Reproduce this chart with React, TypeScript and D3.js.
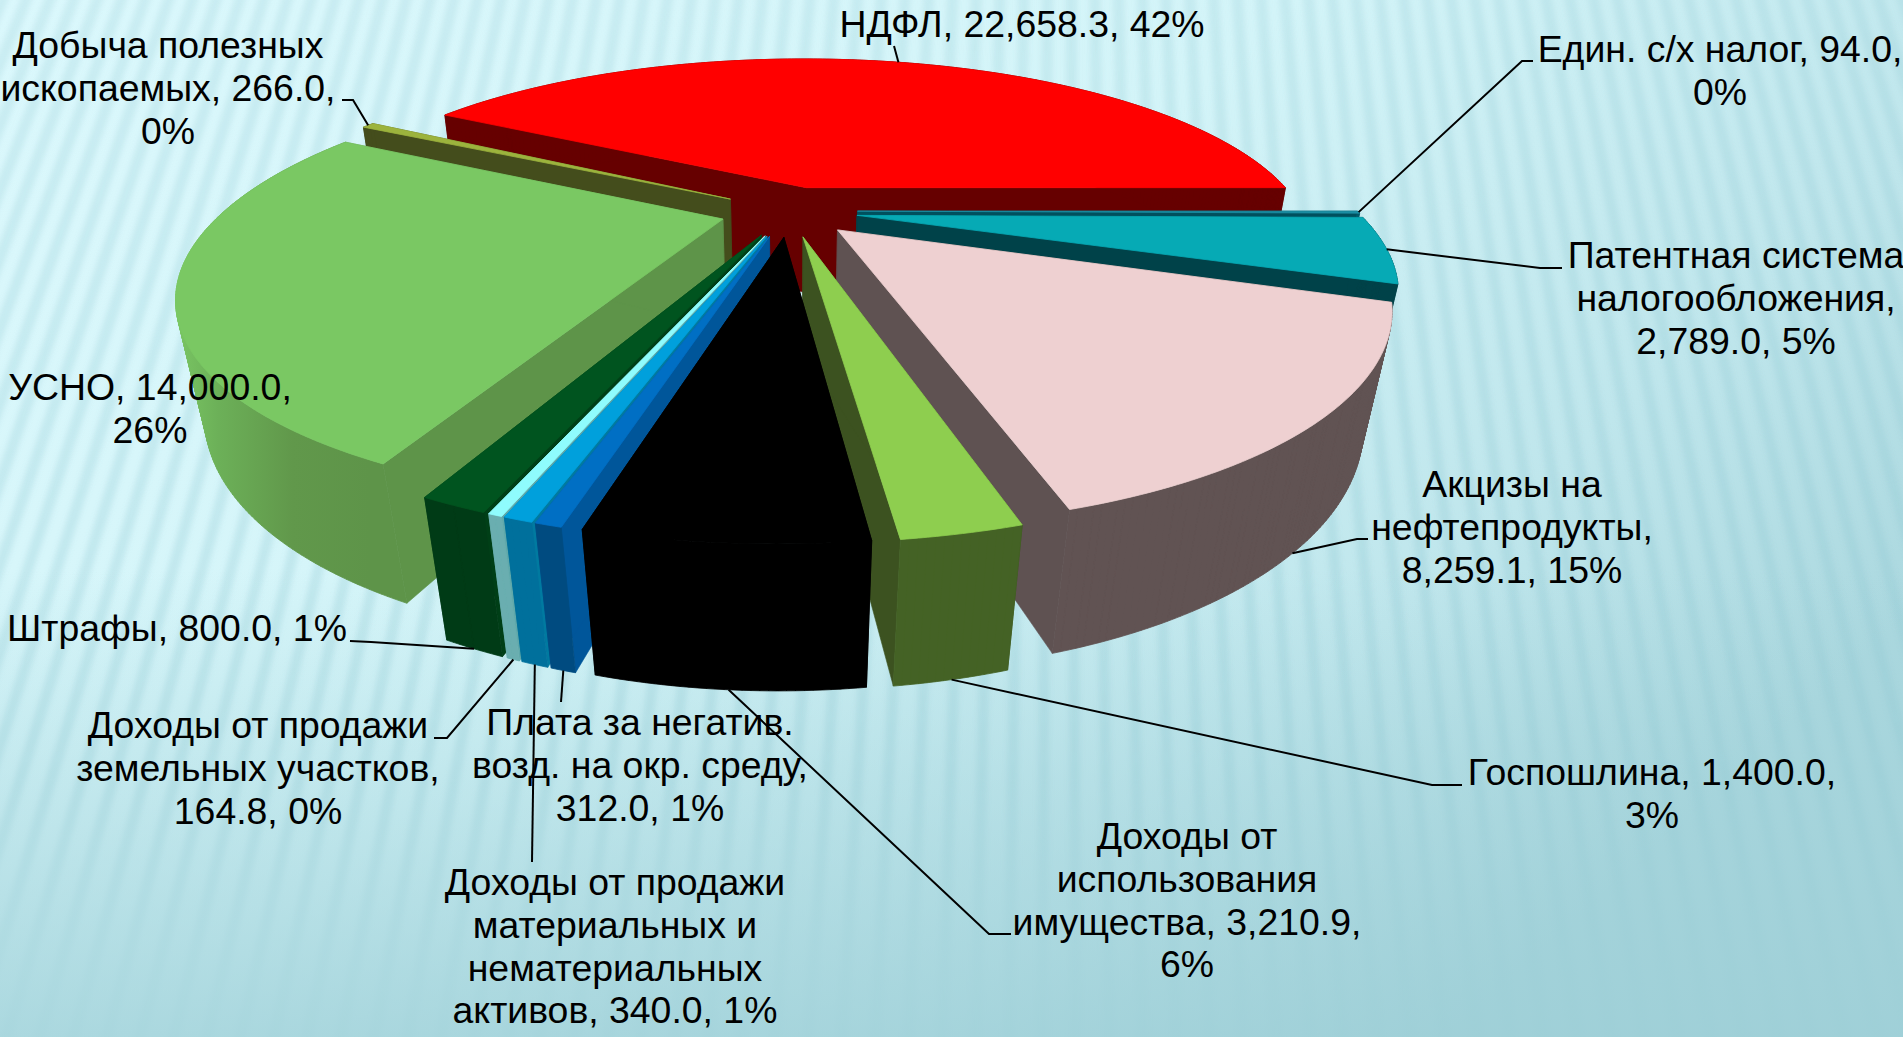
import React from "react";
import * as d3 from "d3";

const W = 1903, H = 1037;

const categories = ["НДФЛ","Един. с/х налог","Патентная система налогообложения","Акцизы на нефтепродукты","Госпошлина","Доходы от использования имущества","Плата за негатив. возд. на окр. среду","Доходы от продажи материальных и нематериальных активов","Доходы от продажи земельных участков","Штрафы","УСНО","Добыча полезных ископаемых"];
const values = [22658.3, 94.0, 2789.0, 8259.1, 1400.0, 3210.9, 312.0, 340.0, 164.8, 800.0, 14000.0, 266.0];
const topColors = ["#ff0000","#1b8ea3","#06aab5","#eed0d1","#8ece4f","#000000","#006fc4","#00a0dc","#8ffcfd","#00541f","#7ac863","#9cb33d"];
const radialColors = ["#660000","#00505e","#004249","#5f5252","#3c5220","#000000","#00569a","#007aa0","#5fa8aa","#003f17","#5e9449","#444d1c"];
const outerColors = ["#660000","#005c6c","#004249","#615353","#446225","#000000","#004b80","#00709c","#6aaeb0","#003b16","#5f974a","#444d1c"];
const drawOrder = [0, 11, 1, 2, 10, 3, 9, 8, 7, 6, 4, 5];

const labelLines = [
  ["НДФЛ, 22,658.3, 42%"],
  ["Един. с/х налог, 94.0,","0%"],
  ["Патентная система","налогообложения,","2,789.0, 5%"],
  ["Акцизы на","нефтепродукты,","8,259.1, 15%"],
  ["Госпошлина, 1,400.0,","3%"],
  ["Доходы от","использования","имущества, 3,210.9,","6%"],
  ["Плата за негатив.","возд. на окр. среду,","312.0, 1%"],
  ["Доходы от продажи","материальных и","нематериальных","активов, 340.0, 1%"],
  ["Доходы от продажи","земельных участков,","164.8, 0%"],
  ["Штрафы, 800.0, 1%"],
  ["УСНО, 14,000.0,","26%"],
  ["Добыча полезных","ископаемых, 266.0,","0%"],
];
const labelCenterX = [1022,1720,1736,1512,1652,1187,640,615,258,177,150,168];
const labelFirstBaseline = [37,62,268,497,785,849,735,895,738,641,400,58];
const leaderZ = [0,0,0,-1,-1,-1,-1,-1,-1,-1,0,0];
const leaderTail: (number[][] | null)[] = [
  [[894,46]],
  [[1522,61],[1533,61]],
  [[1540,268],[1562,268]],
  [[1357,539],[1368,539]],
  [[1432,785],[1462,785]],
  [[989,934],[1011,934]],
  [[561,702]],
  [[532,862]],
  [[447,738],[434,738]],
  [[371,642],[350,641]],
  null,
  [[353,100],[342,100]],
];

const FONT_SIZE = 37.4, LINE_H = 42.8;

// perspective camera of the 3-D pie
const cx = 789, cy = 211, F = 500, B = 2.5, S = 184, T = 113, kY = 0.327, mZ = 0.043, EXPLODE = 0.137;
const project = (X: number, Y: number, Z: number): [number, number] => {
  const w = 1 + kY * Y - mZ * Z;
  return [cx + (F * X + B * Y) / w, cy - (S * Y + T * Z) / w];
};

const sweepRed = (values[0] / d3.sum(values)) * 2 * Math.PI;
const start = Math.PI / 2 - sweepRed;
const pieGen = d3.pie<number>().sort(null).startAngle(start).endAngle(start + 2 * Math.PI);
const arcs = pieGen(values);
const line = d3.line();

// all faces wound the same way, so overlapping quads in one path never cancel out
const wound = (pts: [number, number][]) =>
  line(d3.polygonArea(pts) < 0 ? pts.slice().reverse() : pts) + "Z";

const sliceGeom = (i: number) => {
  const a = arcs[i];
  const mid = (a.startAngle + a.endAngle) / 2;
  const ax = EXPLODE * Math.sin(mid), ay = EXPLODE * Math.cos(mid);
  const n = Math.max(2, Math.ceil((a.endAngle - a.startAngle) / 0.012));
  const ts = d3.range(n + 1).map((j) => a.startAngle + ((a.endAngle - a.startAngle) * j) / n);
  const at = (t: number, Z: number) => project(ax + Math.sin(t), ay + Math.cos(t), Z);
  const rim = (Z: number) => ts.map((t) => at(t, Z));
  const apex = (Z: number) => project(ax, ay, Z);
  const radial = (t: number) => wound([apex(0), at(t, 0), at(t, -1), apex(-1)]);
  const outer = d3.range(n)
    .map((j) => wound([at(ts[j], 0), at(ts[j + 1], 0), at(ts[j + 1], -1), at(ts[j], -1)]))
    .join("");
  return {
    top: line([apex(0), ...rim(0)]) + "Z",
    outer,
    radials: radial(a.startAngle) + radial(a.endAngle),
    mid,
    at,
  };
};

// fan of background stripes converging on a far vanishing point
const vpX = 1060, vpY = -2550;
const stripes = d3.range(-1100, 3100, 34).map((x) => {
  const t = (-50 - vpY) / (1100 - vpY);
  return line([[vpX + (x - vpX) * t, -50], [x, 1100]]) as string;
});

export default function App() {
  return (
    <svg width={W} height={H} viewBox={`0 0 ${W} ${H}`} style={{ position: "fixed", left: 0, top: 0, display: "block" }}>
      <defs>
        <linearGradient id="bg" x1="0" y1="0" x2="1" y2="0.6">
          <stop offset="0" stopColor="#dbf8fc" />
          <stop offset="0.5" stopColor="#d3f4f8" />
          <stop offset="0.8" stopColor="#bfe6ec" />
          <stop offset="1" stopColor="#abd8df" />
        </linearGradient>
        <linearGradient id="bottomShade" x1="0" y1="0" x2="0" y2="1">
          <stop offset="0.55" stopColor="#9bcdd5" stopOpacity="0" />
          <stop offset="1" stopColor="#9bcdd5" stopOpacity="0.72" />
        </linearGradient>
        <linearGradient id="stripeFade" x1="0" y1="0" x2="0" y2="1">
          <stop offset="0" stopColor="#fff" stopOpacity="0.7" />
          <stop offset="0.75" stopColor="#fff" stopOpacity="1" />
          <stop offset="0.95" stopColor="#fff" stopOpacity="0.3" />
        </linearGradient>
        <mask id="stripeMask" maskUnits="userSpaceOnUse" x="0" y="0" width={W} height={H}>
          <rect width={W} height={H} fill="url(#stripeFade)" />
        </mask>
        <filter id="soft" x="-10%" y="-10%" width="120%" height="120%">
          <feGaussianBlur stdDeviation="2.8" />
        </filter>
        <linearGradient id="greenWall" gradientUnits="userSpaceOnUse" x1="176" y1="0" x2="370" y2="0">
          <stop offset="0" stopColor="#79c563" />
          <stop offset="0.22" stopColor="#6cb058" />
          <stop offset="0.6" stopColor="#61984b" />
          <stop offset="1" stopColor="#5e9449" />
        </linearGradient>
      </defs>
      <rect width={W} height={H} fill="url(#bg)" />
      <g mask="url(#stripeMask)">
        <g filter="url(#soft)" stroke="#8fc6cf" strokeOpacity={0.3} strokeWidth={11} fill="none">
          {stripes.map((d, i) => <path key={i} d={d} />)}
        </g>
      </g>
      <rect width={W} height={H} fill="url(#bottomShade)" />
      {drawOrder.map((i) => {
        const g = sliceGeom(i);
        const outerFill = categories[i] === "УСНО" ? "url(#greenWall)" : outerColors[i];
        return (
          <g key={categories[i]}>
            <path d={g.radials} fill={radialColors[i]} stroke={radialColors[i]} strokeWidth={0.6} />
            <path d={g.outer} fill={outerFill} stroke={outerFill} strokeWidth={0.8} />
            <path d={g.top} fill={topColors[i]} stroke={topColors[i]} strokeWidth={0.8} />
          </g>
        );
      })}
      <g fontFamily="'Liberation Sans', Arial, sans-serif" fontSize={FONT_SIZE} fill="#000" textAnchor="middle">
        {labelLines.map((ls, i) =>
          ls.map((s, j) => (
            <text key={`${i}-${j}`} x={labelCenterX[i]} y={labelFirstBaseline[i] + j * LINE_H}>{s}</text>
          ))
        )}
      </g>
      <g fill="none" stroke="#000" strokeWidth={2}>
        {leaderTail.map((tail, i) => {
          if (!tail) return null;
          const g = sliceGeom(i);
          return <path key={i} d={line([g.at(g.mid, leaderZ[i]), ...(tail as [number, number][])]) as string} />;
        })}
      </g>
    </svg>
  );
}
